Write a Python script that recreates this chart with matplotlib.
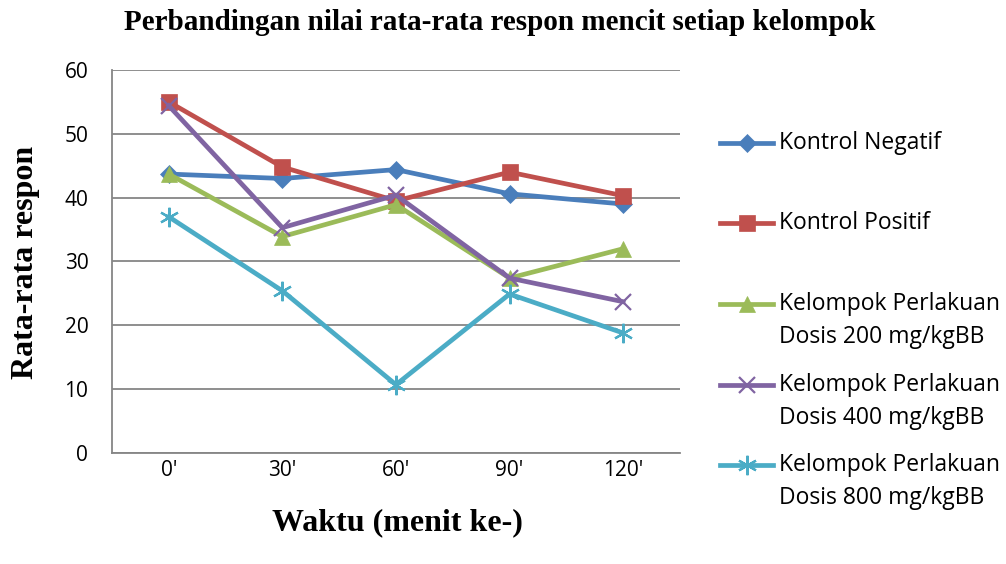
import matplotlib.pyplot as plt
from matplotlib.lines import Line2D

# data
waktu = ["0'", "30'", "60'", "90'", "120'"]
kontrol_negatif = [43.7, 43.0, 44.4, 40.6, 39.0]
kontrol_positif = [55.0, 44.8, 39.5, 44.0, 40.3]
dosis_200 = [43.7, 33.9, 38.9, 27.4, 32.0]
dosis_400 = [54.4, 35.3, 40.4, 27.4, 23.7]
dosis_800 = [37.0, 25.4, 10.7, 24.9, 18.8]

labels = ["Kontrol Negatif", "Kontrol Positif",
          "Kelompok Perlakuan\nDosis 200 mg/kgBB",
          "Kelompok Perlakuan\nDosis 400 mg/kgBB",
          "Kelompok Perlakuan\nDosis 800 mg/kgBB"]
series = [kontrol_negatif, kontrol_positif, dosis_200, dosis_400, dosis_800]
colors = ["#4A7EBB", "#C0504D", "#9BBB59", "#8064A2", "#4BACC6"]
markers = ["D", "s", "^", "x", (6, 2, 0)]
msizes = [9, 12, 11, 12, 14]


def edge_w(m):
    return 1.6 if m == "x" or isinstance(m, tuple) else 0.5


fig = plt.figure(figsize=(10.06, 5.64), dpi=100)
ax = fig.add_axes([0.1113, 0.1968, 0.5646, 0.6791])

x = range(len(waktu))
for vals, c, m, ms in zip(series, colors, markers, msizes):
    ax.plot(x, vals, color=c, lw=3.4, marker=m, markersize=ms,
            markeredgewidth=edge_w(m), markeredgecolor=c, markerfacecolor=c)

ax.set_xlim(-0.5, 4.5)
ax.set_ylim(0, 60)
ax.set_yticks(range(0, 61, 10))
ax.set_xticks(list(x))
ax.set_xticklabels(waktu)
ax.grid(axis='y', color='#868686', lw=1.3)
ax.set_axisbelow(True)
for s in ["top", "right"]:
    ax.spines[s].set_visible(False)
for s in ["left", "bottom"]:
    ax.spines[s].set_color('#868686')
    ax.spines[s].set_linewidth(1.3)
ax.tick_params(length=0, labelsize=15)
ax.tick_params(axis='y', pad=17)
ax.tick_params(axis='x', pad=5)
for t in ax.get_xticklabels() + ax.get_yticklabels():
    t.set_family('Open Sans')

fig.text(0.497, 0.96, "Perbandingan nilai rata-rata respon mencit setiap kelompok",
         ha='center', va='center', family='Liberation Serif', weight='bold', fontsize=21)
fig.text(0.025, 0.534, "Rata-rata respon", rotation=90, ha='center', va='center',
         family='Liberation Serif', weight='bold', fontsize=23)
fig.text(0.395, 0.073, "Waktu (menit ke-)", ha='center', va='center',
         family='Liberation Serif', weight='bold', fontsize=23)

# legend drawn by hand to match the layout
rows = [143, 223, 304, 385, 465]
for lab, c, m, ms, yr in zip(labels, colors, markers, msizes, rows):
    yf = 1 - yr / 564
    fig.add_artist(Line2D([720 / 1006, 773 / 1006], [yf, yf], transform=fig.transFigure,
                          color=c, lw=3.4))
    fig.add_artist(Line2D([747 / 1006], [yf], transform=fig.transFigure, color=c,
                          marker=m, markersize=ms, markeredgecolor=c, markerfacecolor=c,
                          markeredgewidth=edge_w(m)))
    for i, line in enumerate(lab.split('\n')):
        fig.text(779 / 1006, yf - i * 33 / 564, line, ha='left', va='center',
                 family='Open Sans', fontsize=16.5)

fig.savefig("out.png", dpi=100)
